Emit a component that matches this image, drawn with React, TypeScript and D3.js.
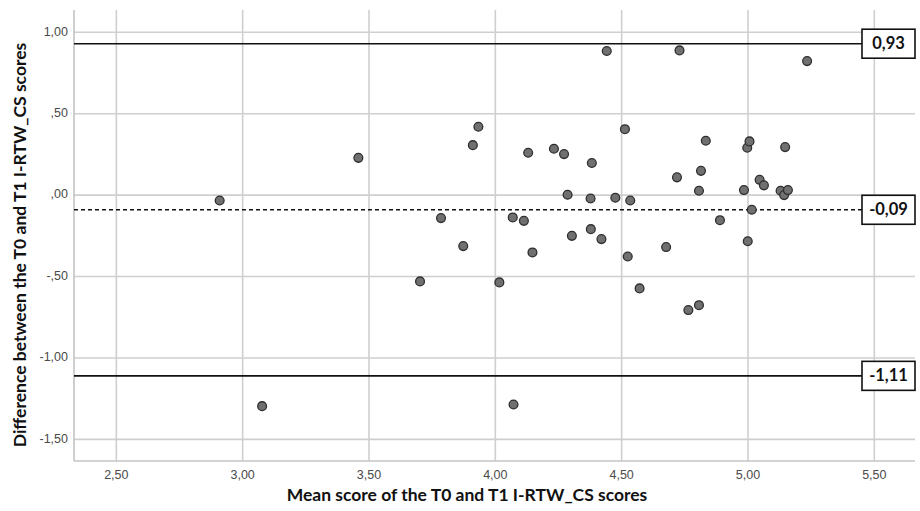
import React from "react";
import * as d3 from "d3";

const meanScores = [
  2.909, 3.077, 3.458, 3.702, 3.785, 3.873, 3.911, 3.933, 4.016, 4.069,
  4.072, 4.113, 4.13, 4.147, 4.232, 4.272, 4.286, 4.303, 4.377, 4.378,
  4.382, 4.42, 4.441, 4.475, 4.513, 4.524, 4.534, 4.571, 4.676, 4.719,
  4.729, 4.764, 4.806, 4.806, 4.814, 4.833, 4.889, 4.984, 4.997, 4.999,
  5.006, 5.015, 5.046, 5.063, 5.129, 5.143, 5.147, 5.158, 5.234,
];
const differences = [
  -0.033, -1.296, 0.229, -0.53, -0.141, -0.313, 0.307, 0.42, -0.536, -0.137,
  -1.286, -0.158, 0.26, -0.352, 0.285, 0.252, 0.002, -0.25, -0.021, -0.209,
  0.197, -0.27, 0.885, -0.016, 0.405, -0.377, -0.033, -0.573, -0.319, 0.109,
  0.889, -0.706, 0.027, -0.676, 0.149, 0.334, -0.154, 0.031, 0.291, -0.283,
  0.33, -0.09, 0.094, 0.06, 0.027, 0.0, 0.295, 0.031, 0.823,
];

const xTicks = [2.5, 3.0, 3.5, 4.0, 4.5, 5.0, 5.5];
const xTickLabels = ["2,50", "3,00", "3,50", "4,00", "4,50", "5,00", "5,50"];
const yTicks = [1.0, 0.5, 0.0, -0.5, -1.0, -1.5];
const yTickLabels = ["1,00", ",50", ",00", "-,50", "-1,00", "-1,50"];

const refValues = [0.93, -0.09, -1.11];
const refLabels = ["0,93", "-0,09", "-1,11"];
const refDashed = [false, true, false];

const xTitle = "Mean score of the T0 and T1 I-RTW_CS scores";
const yTitle = "Difference between the T0 and T1 I-RTW_CS scores";

export default function App() {
  const W = 920;
  const H = 511;
  const left = 74;
  const right = 915;
  const top = 10;
  const bottom = 461;

  const x = d3.scaleLinear().domain([2.3325, 5.661]).range([left, right]);
  const y = d3.scaleLinear().domain([-1.633, 1.137]).range([bottom, top]);

  const gridColor = "#cfcfcf";
  const tickFont = "'Liberation Sans', Arial, sans-serif";
  const titleFont = "Lato, 'Open Sans', sans-serif";
  const boxW = 53;
  const boxH = 29;

  return (
    <svg
      width={W}
      height={H}
      style={{ position: "absolute", left: 0, top: 0, background: "#fff" }}
    >
      <rect x={0} y={0} width={W} height={H} fill="#fff" />
      {/* grid */}
      {xTicks.map((t) => (
        <line key={"gx" + t} x1={x(t)} x2={x(t)} y1={top} y2={bottom} stroke={gridColor} strokeWidth={1.6} />
      ))}
      {yTicks.map((t) => (
        <line key={"gy" + t} x1={left} x2={right} y1={y(t)} y2={y(t)} stroke={gridColor} strokeWidth={1.6} />
      ))}
      {/* axes */}
      <line x1={left} x2={left} y1={top} y2={bottom} stroke="#c4c4c4" strokeWidth={1.6} />
      <line x1={left} x2={right} y1={bottom} y2={bottom} stroke="#c4c4c4" strokeWidth={1.6} />
      {/* tick labels */}
      {xTicks.map((t, i) => (
        <text key={"xl" + t} x={x(t)} y={476} textAnchor="middle" dominantBaseline="middle" fontFamily={tickFont} fontSize={12.5} fill="#4a4a4a">
          {xTickLabels[i]}
        </text>
      ))}
      {yTicks.map((t, i) => (
        <text key={"yl" + t} x={68} y={y(t)} textAnchor="end" dominantBaseline="middle" fontFamily={tickFont} fontSize={12.5} fill="#4a4a4a">
          {yTickLabels[i]}
        </text>
      ))}
      {/* reference lines */}
      {refValues.map((v, i) => (
        <line
          key={"ref" + i}
          x1={left}
          x2={right - boxW}
          y1={y(v)}
          y2={y(v)}
          stroke="#111"
          strokeWidth={refDashed[i] ? 1.4 : 1.6}
          strokeDasharray={refDashed[i] ? "4,3" : undefined}
        />
      ))}
      {/* points */}
      {meanScores.map((m, i) => (
        <circle key={"p" + i} cx={x(m)} cy={y(differences[i])} r={4.4} fill="#707070" stroke="#2e2e2e" strokeWidth={1.3} />
      ))}
      {/* reference labels */}
      {refValues.map((v, i) => (
        <g key={"rl" + i}>
          <rect x={right - boxW} y={y(v) - boxH / 2} width={boxW} height={boxH} fill="#fff" stroke="#111" strokeWidth={1.6} />
          <text x={right - boxW / 2} y={y(v) + 1} textAnchor="middle" dominantBaseline="middle" fontFamily={titleFont} fontWeight="bold" fontSize={16.5} fill="#111">
            {refLabels[i]}
          </text>
        </g>
      ))}
      {/* titles */}
      <text x={467} y={497} textAnchor="middle" dominantBaseline="middle" fontFamily={titleFont} fontWeight="bold" fontSize={17.5} fill="#111">
        {xTitle}
      </text>
      <text
        transform={`translate(22,245) rotate(-90)`}
        textAnchor="middle"
        dominantBaseline="middle"
        fontFamily={titleFont}
        fontWeight="bold"
        fontSize={17.5}
        fill="#111"
      >
        {yTitle}
      </text>
    </svg>
  );
}
